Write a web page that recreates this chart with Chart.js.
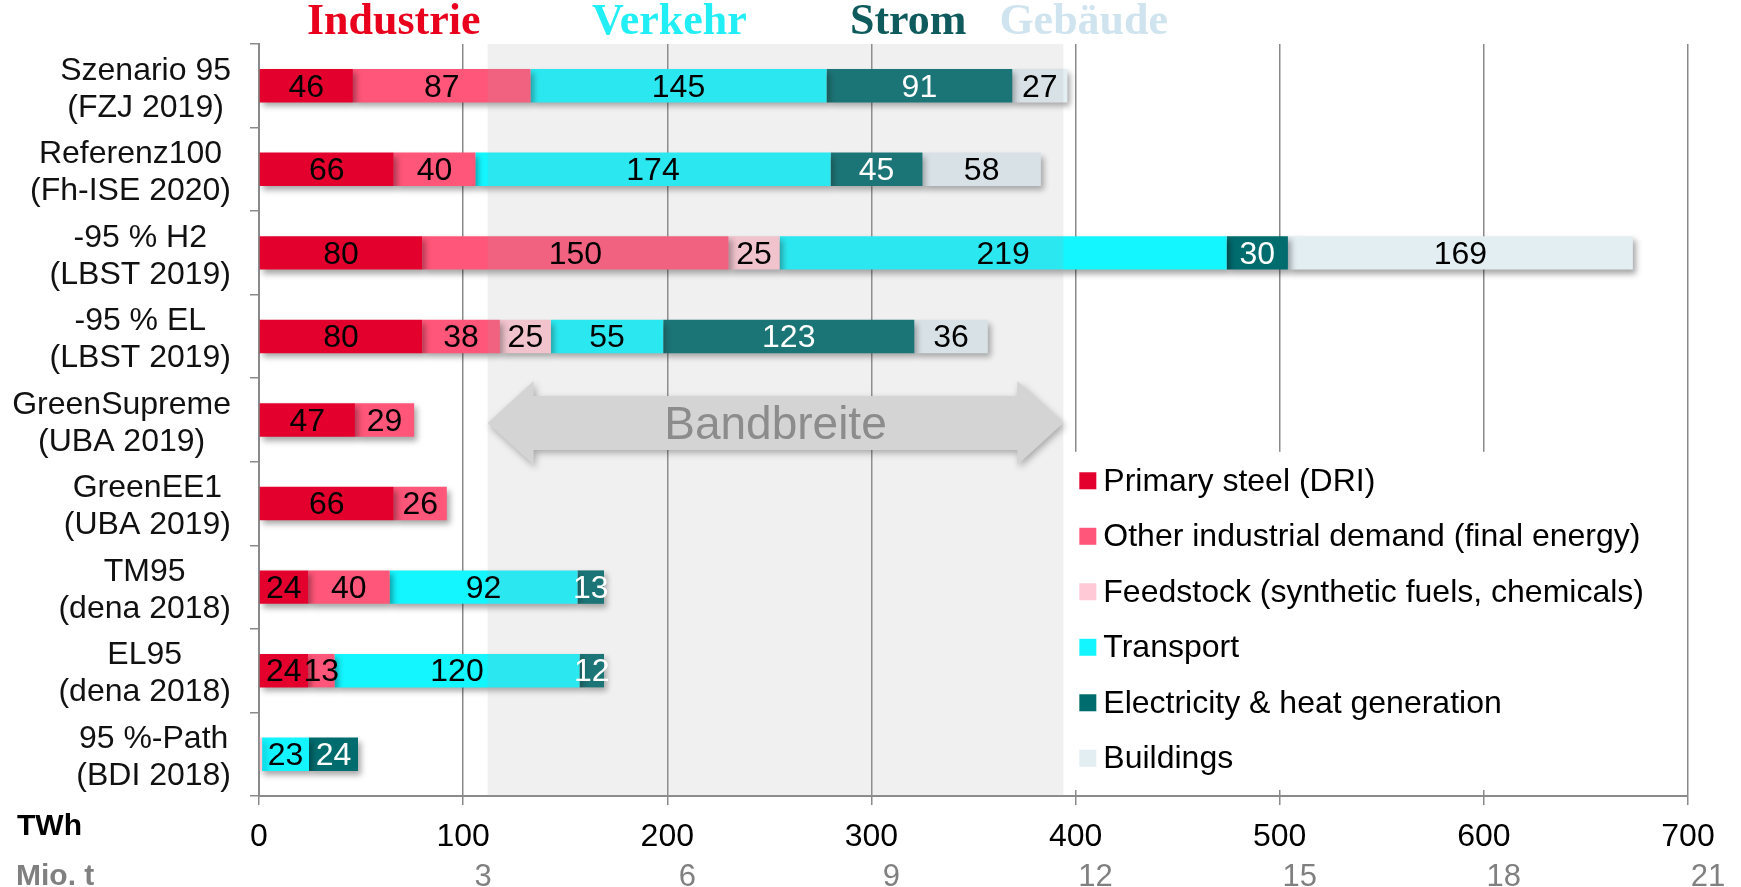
<!DOCTYPE html>
<html>
<head>
<meta charset="utf-8">
<script src="https://cdn.jsdelivr.net/npm/chart.js@4.4.1/dist/chart.umd.min.js"></script>
<style>
  html, body { margin: 0; padding: 0; background: #fff; }
</style>
</head>
<body>
<canvas id="chart-canvas" width="1741" height="887"></canvas>
<script>
// scenarios and their demand split (TWh)
let scenarios = [
  ["Szenario 95", "(FZJ 2019)"],
  ["Referenz100", "(Fh-ISE 2020)"],
  ["-95 % H2", "(LBST 2019)"],
  ["-95 % EL", "(LBST 2019)"],
  ["GreenSupreme", "(UBA 2019)"],
  ["GreenEE1", "(UBA 2019)"],
  ["TM95", "(dena 2018)"],
  ["EL95", "(dena 2018)"],
  ["95 %-Path", "(BDI 2018)"]
];

let primarySteel = [46, 66, 80, 80, 47, 66, 24, 24, 0];
let otherIndustry = [87, 40, 150, 38, 29, 26, 40, 13, 0];
let feedstock = [0, 0, 25, 25, 0, 0, 0, 0, 1.5];
let transport = [145, 174, 219, 55, 0, 0, 92, 120, 23];
let electricity = [91, 45, 30, 123, 0, 0, 13, 12, 24];
let buildings = [27, 58, 169, 36, 0, 0, 0, 0, 0];

let seriesNames = [
  "Primary steel (DRI)",
  "Other industrial demand (final energy)",
  "Feedstock (synthetic fuels, chemicals)",
  "Transport",
  "Electricity & heat generation",
  "Buildings"
];

let twhTicks = [0, 100, 200, 300, 400, 500, 600, 700];
let mioTicks = ["", "3", "6", "9", "12", "15", "18", "21"];

let sectors = ["Industrie", "Verkehr", "Strom", "Gebäude"];
let bandRange = [112, 394];
let bandLabel = "Bandbreite";

// styling
let colors = ["#E3002D", "#FF5679", "#FFC9D5", "#14F6FF", "#006C6E", "#E3EEF3"];
let labelColors = ["#000", "#000", "#000", "#000", "#fff", "#000"];
let sectorColors = ["#E8001C", "#22EEF6", "#0E5A5C", "#CFE4EE"];
let sectorAnchors = [66, 201, 318, 404];
let sans = '"Liberation Sans", Arial, sans-serif';
let gridGray = "#8a8a8a";

Chart.defaults.font.family = sans;

let chart = document.getElementById("chart-canvas").getContext("2d");

let decor = {
  id: "decor",
  beforeDatasetsDraw(c) {
    let ctx = c.ctx;
    ctx.save();
    ctx.shadowColor = "rgba(0,0,0,0.35)";
    ctx.shadowBlur = 6;
    ctx.shadowOffsetX = 3;
    ctx.shadowOffsetY = 4;
  },
  afterDatasetsDraw(c) {
    let ctx = c.ctx;
    ctx.restore();
    let x = c.scales.x, y = c.scales.y, area = c.chartArea;

    // grey band over the bars
    let bx0 = x.getPixelForValue(bandRange[0]);
    let bx1 = x.getPixelForValue(bandRange[1]);
    ctx.save();
    ctx.fillStyle = "rgba(164,164,164,0.165)";
    ctx.fillRect(bx0, area.top, bx1 - bx0, area.bottom - area.top);
    ctx.restore();

    // double arrow
    let cy = y.getPixelForValue(4) + 3;
    let headW = 46, headH = 84, shaftH = 54;
    ctx.save();
    ctx.shadowColor = "rgba(0,0,0,0.3)";
    ctx.shadowBlur = 7;
    ctx.shadowOffsetX = 2;
    ctx.shadowOffsetY = 3;
    ctx.fillStyle = "#D4D4D4";
    ctx.beginPath();
    ctx.moveTo(bx0, cy);
    ctx.lineTo(bx0 + headW, cy - headH / 2);
    ctx.lineTo(bx0 + headW, cy - shaftH / 2);
    ctx.lineTo(bx1 - headW, cy - shaftH / 2);
    ctx.lineTo(bx1 - headW, cy - headH / 2);
    ctx.lineTo(bx1, cy);
    ctx.lineTo(bx1 - headW, cy + headH / 2);
    ctx.lineTo(bx1 - headW, cy + shaftH / 2);
    ctx.lineTo(bx0 + headW, cy + shaftH / 2);
    ctx.lineTo(bx0 + headW, cy + headH / 2);
    ctx.closePath();
    ctx.fill();
    ctx.restore();
    ctx.save();
    ctx.fillStyle = "#8C8C8C";
    ctx.font = "46px " + sans;
    ctx.textAlign = "center";
    ctx.textBaseline = "middle";
    ctx.fillText(bandLabel, (bx0 + bx1) / 2, cy + 3);
    ctx.restore();

    // legend box
    let lx = bx1 + 3;
    let ly = (y.getPixelForValue(4) + y.getPixelForValue(5)) / 2 - 10;
    let lr = x.getPixelForValue(700) - 6;
    ctx.save();
    ctx.fillStyle = "#fff";
    ctx.fillRect(lx, ly, lr - lx, area.bottom - 6 - ly);
    ctx.font = "32px " + sans;
    ctx.textBaseline = "middle";
    ctx.textAlign = "left";
    seriesNames.forEach(function (name, i) {
      let ry = ly + 29 + i * 55.5;
      ctx.fillStyle = colors[i];
      ctx.fillRect(lx + 13, ry - 8.5, 17, 17);
      ctx.fillStyle = "#000";
      ctx.fillText(name, lx + 37, ry + 1);
    });
    ctx.restore();

    // value labels
    ctx.save();
    ctx.font = "32px " + sans;
    ctx.textAlign = "center";
    ctx.textBaseline = "middle";
    c.data.datasets.forEach(function (ds, i) {
      let meta = c.getDatasetMeta(i);
      meta.data.forEach(function (bar, j) {
        let v = ds.data[j];
        if (v < 5) return;
        let p = bar.getCenterPoint();
        ctx.fillStyle = labelColors[i];
        ctx.fillText(String(v), p.x, p.y + 2);
      });
    });
    ctx.restore();
  },
  afterDraw(c) {
    let ctx = c.ctx;
    let x = c.scales.x, y = c.scales.y;
    ctx.save();

    // scenario names, block right-aligned, lines centred
    ctx.font = "32px " + sans;
    ctx.fillStyle = "#111";
    ctx.textAlign = "center";
    ctx.textBaseline = "middle";
    scenarios.forEach(function (lines, i) {
      let cy = y.getPixelForValue(i);
      let w = Math.max.apply(null, lines.map(function (t) { return ctx.measureText(t).width; }));
      let cx = y.right - 28 - w / 2;
      lines.forEach(function (t, k) {
        ctx.fillText(t, cx, cy - 15 + k * 37);
      });
    });

    // sector headers
    ctx.font = 'bold 44px "Liberation Serif", "Times New Roman", serif';
    sectors.forEach(function (s, i) {
      ctx.fillStyle = sectorColors[i];
      ctx.fillText(s, x.getPixelForValue(sectorAnchors[i]), 23);
    });

    // unit labels
    ctx.textAlign = "left";
    ctx.font = "bold 30px " + sans;
    ctx.fillStyle = "#000";
    ctx.fillText("TWh", 17, 827);
    ctx.fillStyle = "#808080";
    ctx.fillText("Mio. t", 16, 877);
    ctx.restore();
  }
};

let datasets = [primarySteel, otherIndustry, feedstock, transport, electricity, buildings].map(function (d, i) {
  return {
    label: seriesNames[i],
    data: d,
    backgroundColor: colors[i],
    borderWidth: 0,
    barPercentage: 0.4,
    categoryPercentage: 1
  };
});

let chart1 = new Chart(chart, {
  type: "bar",
  data: { labels: scenarios, datasets: datasets },
  plugins: [decor],
  options: {
    indexAxis: "y",
    responsive: false,
    animation: false,
    layout: { padding: { top: 44, right: 53, left: 0, bottom: 0 } },
    plugins: { legend: { display: false }, tooltip: { enabled: false } },
    scales: {
      x: {
        type: "linear",
        stacked: true,
        min: 0,
        max: 700,
        position: "bottom",
        weight: 0,
        afterBuildTicks: function (s) { s.ticks = twhTicks.map(function (v) { return { value: v }; }); },
        ticks: { color: "#000", font: { size: 32 }, padding: 13, maxRotation: 0, autoSkip: false },
        grid: { color: gridGray, lineWidth: 1.5, tickLength: 9, drawTicks: true },
        border: { color: gridGray, width: 2 },
        afterFit: function (s) { s.height = 57; }
      },
      x2: {
        type: "linear",
        min: 0,
        max: 700,
        position: "bottom",
        weight: 1,
        afterBuildTicks: function (s) { s.ticks = twhTicks.map(function (v) { return { value: v }; }); },
        ticks: {
          color: "#808080", font: { size: 31 }, padding: 6, labelOffset: 20, maxRotation: 0, autoSkip: false,
          callback: function (v, i) { return mioTicks[i]; }
        },
        grid: { display: false, drawTicks: false },
        border: { display: false },
        afterFit: function (s) { s.height = 34; }
      },
      y: {
        stacked: true,
        offset: true,
        ticks: { display: false },
        grid: { drawOnChartArea: false, drawTicks: true, tickLength: 9, color: gridGray, lineWidth: 1.5, offset: true },
        border: { color: gridGray, width: 2 },
        afterFit: function (s) { s.width = 259; }
      }
    }
  }
});
</script>
</body>
</html>
